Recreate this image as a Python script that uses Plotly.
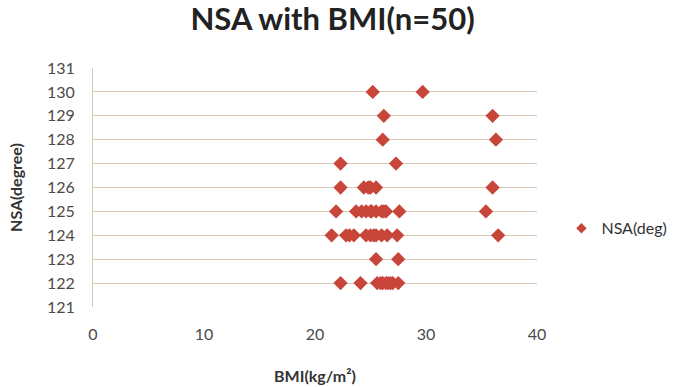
import plotly.graph_objects as go

bmi = [25.2, 29.7,
       26.2, 36.0,
       26.1, 36.3,
       22.3, 27.3,
       22.3, 24.4, 24.8, 25.0, 25.5, 36.0,
       21.9, 23.7, 24.2, 24.6, 25.0, 25.1, 25.5, 26.0, 26.2, 26.4, 27.6, 35.4,
       21.5, 22.8, 23.1, 23.5, 24.6, 25.0, 25.3, 25.5, 26.0, 26.5, 27.4, 36.5,
       25.5, 27.5,
       22.3, 24.1, 25.6, 26.1, 26.4, 26.6, 27.0, 27.5, 26.8, 25.9]
nsa = [130, 130,
       129, 129,
       128, 128,
       127, 127,
       126, 126, 126, 126, 126, 126,
       125, 125, 125, 125, 125, 125, 125, 125, 125, 125, 125, 125,
       124, 124, 124, 124, 124, 124, 124, 124, 124, 124, 124, 124,
       123, 123,
       122, 122, 122, 122, 122, 122, 122, 122, 122, 122]

x_ticks = [0, 10, 20, 30, 40]
y_ticks = list(range(121, 132))

font = "Lato, Open Sans, sans-serif"
grid = "#d8c9b4"
red = "#c8453a"

fig = go.Figure()
fig.add_trace(go.Scatter(
    x=bmi, y=nsa, mode="markers", name="NSA(deg)", showlegend=False,
    marker=dict(symbol="diamond", size=11, color=red),
))
fig.add_trace(go.Scatter(
    x=[None], y=[None], mode="markers", name="NSA(deg)",
    marker=dict(symbol="diamond", size=8, color=red),
))

fig.update_layout(
    width=683, height=387,
    margin=dict(l=93, r=146, t=68, b=80, autoexpand=False),
    paper_bgcolor="white", plot_bgcolor="white",
    font=dict(family=font, color="#4a4a4a", size=14),
    title=dict(text="<b>NSA with BMI(n=50)</b>", x=0.487, xanchor="center",
               y=0.95, yanchor="middle",
               font=dict(family=font, size=31, color="#222222")),
    showlegend=True,
    legend=dict(xref="container", yref="container", x=0.822, y=0.41,
                xanchor="left", yanchor="middle",
                font=dict(family=font, size=16, color="#333333"),
                bgcolor="rgba(0,0,0,0)", itemwidth=30),
    xaxis=dict(range=[0, 40], tickvals=x_ticks, showgrid=False, zeroline=False,
               showline=False, ticks="", ticklabelstandoff=16,
               tickfont=dict(size=16, color="#4a4a4a"),
               title=dict(text="<b>BMI(kg/m²)</b>", standoff=28,
                          font=dict(size=16, color="#333333"))),
    yaxis=dict(range=[121, 131], tickvals=y_ticks, showgrid=True, gridcolor=grid,
               gridwidth=1, zeroline=False, showline=True, linecolor=grid,
               ticks="", ticklabelstandoff=14,
               tickfont=dict(size=16, color="#4a4a4a"),
               title=dict(text="<b>NSA(degree)</b>", standoff=20,
                          font=dict(size=16, color="#333333"))),
)

fig.write_html("out.html")
